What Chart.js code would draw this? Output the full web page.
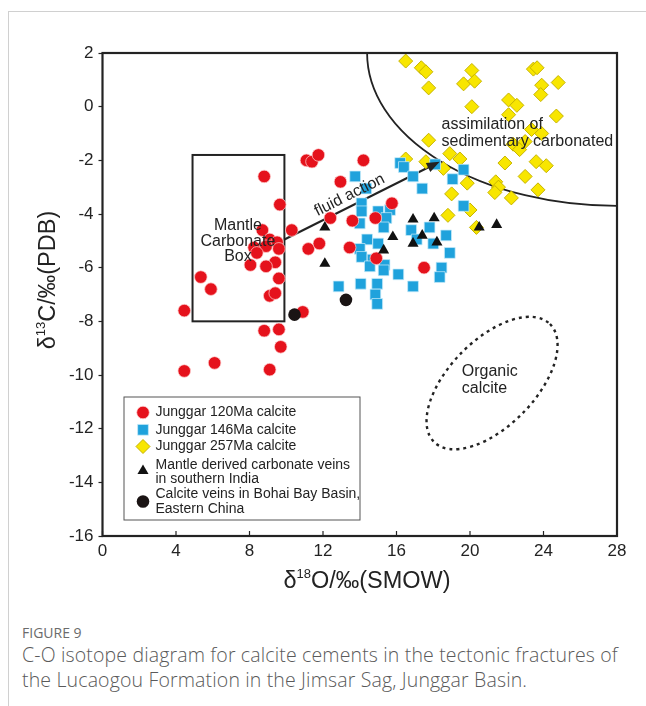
<!DOCTYPE html>
<html>
<head>
<meta charset="utf-8">
<title>Figure 9 / C-O isotopes</title>
<script src="https://cdn.jsdelivr.net/npm/chart.js@4.4.1/dist/chart.umd.min.js"></script>
<style>
  html, body { margin: 0; padding: 0; background: #fff; }
  .figure { position: relative; width: 646px; height: 706px; overflow: hidden; }
  .frame { position: absolute; left: 8px; top: 11px; right: -2px; bottom: -2px;
           border-left: 1px solid #d0d0d0; border-top: 1px solid #d0d0d0; }
  #chartCO { position: absolute; left: 0; top: 0; }
  .fig-label { position: absolute; left: 22px; top: 623px; font: 14px "Open Sans", sans-serif; color: #6b6b6b; }
  .fig-caption { position: absolute; left: 22px; top: 642px; width: 620px; white-space: nowrap;
                 font: 300 19.5px/25px "Open Sans", sans-serif; letter-spacing: 0.15px; color: #5a5a5a; }
</style>
</head>
<body>
<div class="figure">
  <div class="frame"></div>
  <canvas id="chartCO" width="646" height="600"></canvas>
  <div class="fig-label">FIGURE 9</div>
  <div class="fig-caption">C-O isotope diagram for calcite cements in the tectonic fractures of<br>the Lucaogou Formation in the Jimsar Sag, Junggar Basin.</div>
</div>

<script>
  // [δ18O (SMOW), δ13C (PDB)] per sample
  const junggar120 = [
    [8.8, -2.6], [9.65, -3.65], [10.3, -4.6], [8.7, -4.6], [9.1, -4.95], [9.5, -5.05],
    [9.6, -5.3], [8.25, -5.25], [8.9, -5.2], [8.4, -5.45], [9.4, -5.8], [8.05, -5.9],
    [8.9, -5.95], [9.6, -6.4], [5.35, -6.35], [5.9, -6.8], [9.1, -7.05], [9.4, -6.95],
    [4.45, -7.6], [10.9, -7.65], [8.8, -8.35], [9.6, -8.3], [9.7, -8.95], [6.1, -9.55],
    [4.45, -9.85], [9.1, -9.8], [11.1, -2.0], [11.4, -2.05], [11.75, -1.8], [12.95, -2.8],
    [12.4, -4.15], [13.6, -4.25], [11.2, -5.3], [11.8, -5.1], [13.45, -5.25], [14.2, -2.0],
    [14.85, -4.15], [15.75, -3.6], [14.9, -5.65], [17.5, -6.0]
  ];
  const junggar146 = [
    [13.75, -2.6], [14.35, -3.05], [14.1, -3.6], [14.1, -3.9], [15.0, -3.9], [15.65, -3.85],
    [15.45, -4.15], [14.0, -4.35], [15.3, -4.5], [14.4, -4.95], [15.0, -5.1], [14.0, -5.3],
    [14.1, -5.6], [14.7, -5.7], [14.55, -5.95], [15.35, -5.9], [15.3, -6.1], [16.1, -6.25],
    [12.85, -6.7], [14.05, -6.6], [14.95, -6.6], [14.85, -7.0], [14.95, -7.35], [16.9, -6.7],
    [16.2, -2.1], [16.4, -2.25], [16.9, -2.6], [17.4, -3.05], [18.1, -2.15], [19.05, -2.7],
    [19.65, -2.35], [19.65, -3.7], [16.8, -4.6], [17.1, -4.95], [17.8, -4.5], [18.7, -4.8],
    [18.0, -5.1], [18.9, -5.45], [18.45, -6.0], [18.35, -6.35]
  ];
  const junggar257 = [
    [16.5, 1.7], [17.35, 1.45], [17.6, 1.3], [17.75, 0.7], [20.1, 1.35], [19.65, 0.85],
    [20.25, 0.95], [20.1, 0.0], [23.45, 1.4], [23.65, 1.45], [23.9, 0.8], [24.8, 0.9],
    [23.85, 0.45], [22.1, 0.25], [22.55, 0.05], [22.1, -0.3], [24.7, -0.35], [17.75, -1.25],
    [23.35, -0.85], [23.9, -1.0], [22.35, -1.4], [22.7, -1.6], [23.0, -1.3], [18.9, -1.75],
    [19.45, -1.95], [17.6, -2.05], [16.5, -1.95], [21.9, -2.1], [23.6, -2.05], [24.15, -2.2],
    [18.55, -2.3], [19.85, -2.85], [19.0, -3.25], [18.8, -4.05], [20.0, -3.85], [20.35, -4.5],
    [21.4, -2.8], [21.55, -3.0], [21.35, -3.2], [22.25, -3.4], [23.0, -2.6], [23.7, -3.1]
  ];
  const indiaVeins = [
    [12.1, -4.5], [12.1, -5.85], [15.3, -5.35], [15.8, -4.85], [16.9, -4.2], [16.9, -5.1],
    [17.4, -4.8], [18.05, -4.15], [18.2, -5.05], [20.5, -4.5], [21.45, -4.4]
  ];
  const bohaiVeins = [[10.45, -7.75], [13.25, -7.2]];

  const seriesNames = [
    ["Junggar 120Ma calcite"],
    ["Junggar 146Ma calcite"],
    ["Junggar 257Ma calcite"],
    ["Mantle derived carbonate veins", "in southern India"],
    ["Calcite veins in Bohai Bay Basin,", "Eastern China"]
  ];
  const xTicks = [0, 4, 8, 12, 16, 20, 24, 28];
  const yTicks = [2, 0, -2, -4, -6, -8, -10, -12, -14, -16];

  // interpretive fields, in axis units
  const mantleBox = [[4.9, -1.8], [9.9, -8.0]];
  const fluidArrow = [[9.9, -4.95], [18.35, -2.05]];
  const assimCurve = { cx: 28, cy: 2, rx: 13.6, ry: 5.7 };
  const organicField = { cx: 21.2, cy: -10.3, ex: 24.35, ey: -8.1, ratio: 0.52 };

  const toPoints = arr => arr.map(([x, y]) => ({ x, y }));
  const FONT = '"Liberation Sans", Arial, sans-serif';
  const INK = '#232323';

  // same shapes Chart.js uses for pointStyle, for the legend swatches
  function marker(ctx, style, x, y, r, fill, stroke, lw) {
    ctx.beginPath();
    if (style === 'circle') {
      ctx.arc(x, y, r, 0, Math.PI * 2);
    } else if (style === 'rect') {
      const s = Math.SQRT1_2 * r;
      ctx.rect(x - s, y - s, 2 * s, 2 * s);
    } else if (style === 'rectRot') {
      ctx.moveTo(x - r, y); ctx.lineTo(x, y - r); ctx.lineTo(x + r, y); ctx.lineTo(x, y + r);
      ctx.closePath();
    } else if (style === 'triangle') {
      let a = 0;
      ctx.moveTo(x + Math.sin(a) * r, y - Math.cos(a) * r);
      a += 2 * Math.PI / 3; ctx.lineTo(x + Math.sin(a) * r, y - Math.cos(a) * r);
      a += 2 * Math.PI / 3; ctx.lineTo(x + Math.sin(a) * r, y - Math.cos(a) * r);
      ctx.closePath();
    }
    ctx.fillStyle = fill; ctx.fill();
    if (lw) { ctx.strokeStyle = stroke; ctx.lineWidth = lw; ctx.stroke(); }
  }

  // text with a raised numeral, e.g. δ18O
  function supText(ctx, parts, cx, cy, rot) {
    ctx.save();
    ctx.translate(cx, cy);
    ctx.rotate(rot);
    ctx.textBaseline = 'alphabetic';
    ctx.textAlign = 'left';
    let total = 0;
    parts.forEach(p => { ctx.font = p[1] + 'px ' + FONT; total += ctx.measureText(p[0]).width; });
    let x = -total / 2;
    parts.forEach(p => {
      ctx.font = p[1] + 'px ' + FONT;
      ctx.fillText(p[0], x, p[2]);
      x += ctx.measureText(p[0]).width;
    });
    ctx.restore();
  }

  const overlay = {
    id: 'overlay',
    beforeDatasetsDraw(chart) {
      const { ctx, chartArea: a, scales: { x, y } } = chart;
      ctx.save();
      ctx.beginPath(); ctx.rect(a.left, a.top, a.width, a.height); ctx.clip();
      ctx.strokeStyle = INK;
      ctx.lineWidth = 2;

      // mantle carbonate box
      const bx0 = x.getPixelForValue(mantleBox[0][0]), by0 = y.getPixelForValue(mantleBox[0][1]);
      const bx1 = x.getPixelForValue(mantleBox[1][0]), by1 = y.getPixelForValue(mantleBox[1][1]);
      ctx.strokeRect(bx0, by0, bx1 - bx0, by1 - by0);

      // assimilation boundary
      const cx = x.getPixelForValue(assimCurve.cx), cy = y.getPixelForValue(assimCurve.cy);
      const rx = cx - x.getPixelForValue(assimCurve.cx - assimCurve.rx);
      const ry = y.getPixelForValue(assimCurve.cy - assimCurve.ry) - cy;
      ctx.lineWidth = 1.8;
      ctx.beginPath();
      ctx.ellipse(cx, cy, rx, ry, 0, Math.PI / 2, Math.PI);
      ctx.stroke();

      // fluid action shaft
      const ax0 = x.getPixelForValue(fluidArrow[0][0]), ay0 = y.getPixelForValue(fluidArrow[0][1]);
      const ax1 = x.getPixelForValue(fluidArrow[1][0]), ay1 = y.getPixelForValue(fluidArrow[1][1]);
      const ang = Math.atan2(ay1 - ay0, ax1 - ax0);
      ctx.lineWidth = 2;
      ctx.beginPath();
      ctx.moveTo(ax0, ay0);
      ctx.lineTo(ax1 - Math.cos(ang) * 8, ay1 - Math.sin(ang) * 8);
      ctx.stroke();

      // organic calcite field (dotted)
      const ox = x.getPixelForValue(organicField.cx), oy = y.getPixelForValue(organicField.cy);
      const ex = x.getPixelForValue(organicField.ex), ey = y.getPixelForValue(organicField.ey);
      const major = Math.hypot(ex - ox, ey - oy);
      ctx.setLineDash([3, 4]);
      ctx.lineWidth = 2.4;
      ctx.beginPath();
      ctx.ellipse(ox, oy, major, major * organicField.ratio, Math.atan2(ey - oy, ex - ox), 0, Math.PI * 2);
      ctx.stroke();
      ctx.restore();
    },
    afterDatasetsDraw(chart) {
      const { ctx, chartArea: a, scales: { x, y } } = chart;
      ctx.save();
      ctx.fillStyle = INK;

      // arrow head
      const ax0 = x.getPixelForValue(fluidArrow[0][0]), ay0 = y.getPixelForValue(fluidArrow[0][1]);
      const ax1 = x.getPixelForValue(fluidArrow[1][0]), ay1 = y.getPixelForValue(fluidArrow[1][1]);
      const ang = Math.atan2(ay1 - ay0, ax1 - ax0);
      ctx.save();
      ctx.translate(ax1, ay1); ctx.rotate(ang);
      ctx.beginPath(); ctx.moveTo(0, 0); ctx.lineTo(-13, -5); ctx.lineTo(-13, 5); ctx.closePath(); ctx.fill();
      ctx.restore();

      // field labels
      ctx.font = '16px ' + FONT;
      ctx.textBaseline = 'middle';
      ctx.textAlign = 'center';
      const mx = x.getPixelForValue(7.37);
      ctx.fillText('Mantle', mx, y.getPixelForValue(-4.45));
      ctx.fillText('Carbonate', mx, y.getPixelForValue(-5.02));
      ctx.fillText('Box', mx, y.getPixelForValue(-5.6));

      ctx.textAlign = 'left';
      ctx.fillText('assimilation of', x.getPixelForValue(18.45), y.getPixelForValue(-0.68));
      ctx.fillText('sedimentary carbonated', x.getPixelForValue(18.45), y.getPixelForValue(-1.3));
      ctx.fillText('Organic', x.getPixelForValue(19.55), y.getPixelForValue(-9.88));
      ctx.fillText('calcite', x.getPixelForValue(19.55), y.getPixelForValue(-10.5));

      // label along the fluid arrow
      const t = 0.45;
      ctx.save();
      ctx.translate(ax0 + (ax1 - ax0) * t, ay0 + (ay1 - ay0) * t);
      ctx.rotate(ang);
      ctx.textAlign = 'center';
      ctx.textBaseline = 'alphabetic';
      ctx.fillText('fluid action', 0, -6);
      ctx.restore();

      // plot frame and inward ticks on the δ18O axis
      ctx.strokeStyle = INK;
      ctx.lineWidth = 2.2;
      ctx.strokeRect(a.left, a.top, a.right - a.left, a.bottom - a.top);
      ctx.lineWidth = 1.2;
      xTicks.forEach(v => {
        const p = x.getPixelForValue(v);
        ctx.beginPath(); ctx.moveTo(p, a.bottom); ctx.lineTo(p, a.bottom - 5); ctx.stroke();
      });

      // legend
      const lx = a.left + 21, ly = a.top + 343.5, lw = 236, lh = 123;
      ctx.fillStyle = '#fff';
      ctx.fillRect(lx, ly, lw, lh);
      ctx.strokeStyle = '#555';
      ctx.lineWidth = 1;
      ctx.strokeRect(lx + 0.5, ly + 0.5, lw, lh);
      const rows = [
        { m: 16, t: [16] }, { m: 33.3, t: [33.3] }, { m: 50, t: [50] },
        { m: 74.3, t: [68.3, 82.6] }, { m: 105, t: [97.6, 112.3] }
      ];
      ctx.font = '14px ' + FONT;
      ctx.textAlign = 'left';
      ctx.textBaseline = 'middle';
      chart.data.datasets.forEach((ds, i) => {
        const r = rows[i];
        marker(ctx, ds.pointStyle, lx + 19.5, ly + r.m, ds.pointRadius, ds.backgroundColor, ds.borderColor, ds.borderWidth);
        ctx.fillStyle = INK;
        ds.label.forEach((line, k) => ctx.fillText(line, lx + 32, ly + r.t[k]));
      });
      ctx.restore();
    },
    afterDraw(chart) {
      const { ctx } = chart;
      ctx.save();
      ctx.fillStyle = INK;
      supText(ctx, [['δ', 23.5, 0], ['18', 13, -10], ['O/‰(SMOW)', 23.5, 0]], 367, 588, 0);
      supText(ctx, [['δ', 23.5, 0], ['13', 13, -10], ['C/‰(PDB)', 23.5, 0]], 55, 280, -Math.PI / 2);
      ctx.restore();
    }
  };

  Chart.defaults.font.family = FONT;
  Chart.defaults.color = INK;

  new Chart(document.getElementById('chartCO'), {
    type: 'scatter',
    data: {
      datasets: [
        { label: seriesNames[0], data: toPoints(junggar120), pointStyle: 'circle', pointRadius: 6.3,
          backgroundColor: '#e5121c', borderColor: 'rgba(255,210,210,0.9)', borderWidth: 0.8, order: 2 },
        { label: seriesNames[1], data: toPoints(junggar146), pointStyle: 'rect', pointRadius: 7.6,
          backgroundColor: '#1fa2dc', borderColor: 'rgba(200,235,250,0.9)', borderWidth: 0.8, order: 3 },
        { label: seriesNames[2], data: toPoints(junggar257), pointStyle: 'rectRot', pointRadius: 7,
          backgroundColor: '#f8e600', borderColor: '#c6b300', borderWidth: 1, order: 4 },
        { label: seriesNames[3], data: toPoints(indiaVeins), pointStyle: 'triangle', pointRadius: 6.4,
          backgroundColor: '#111', borderColor: '#111', borderWidth: 0, order: 0 },
        { label: seriesNames[4], data: toPoints(bohaiVeins), pointStyle: 'circle', pointRadius: 6.3,
          backgroundColor: '#1a1414', borderColor: '#1a1414', borderWidth: 0, order: 1 }
      ]
    },
    options: {
      responsive: false,
      animation: false,
      events: [],
      devicePixelRatio: 1,
      layout: { padding: { top: 53, right: 29, left: 0, bottom: 0 } },
      plugins: { legend: { display: false }, tooltip: { enabled: false } },
      scales: {
        x: {
          type: 'linear', min: 0, max: 28,
          afterBuildTicks: s => { s.ticks = xTicks.map(v => ({ value: v })); },
          afterFit: s => { s.height = 64; },
          grid: { display: false, drawTicks: false },
          border: { display: false },
          ticks: { font: { size: 17 }, padding: 5, maxRotation: 0, color: INK }
        },
        y: {
          type: 'linear', min: -16, max: 2,
          afterBuildTicks: s => { s.ticks = yTicks.map(v => ({ value: v })); },
          afterFit: s => { s.width = 102.5; },
          grid: { drawOnChartArea: false, drawTicks: true, tickLength: 4, tickColor: INK, tickWidth: 1.2 },
          border: { display: false },
          ticks: { font: { size: 17 }, padding: 5, color: INK }
        }
      }
    },
    plugins: [overlay]
  });
</script>
</body>
</html>
